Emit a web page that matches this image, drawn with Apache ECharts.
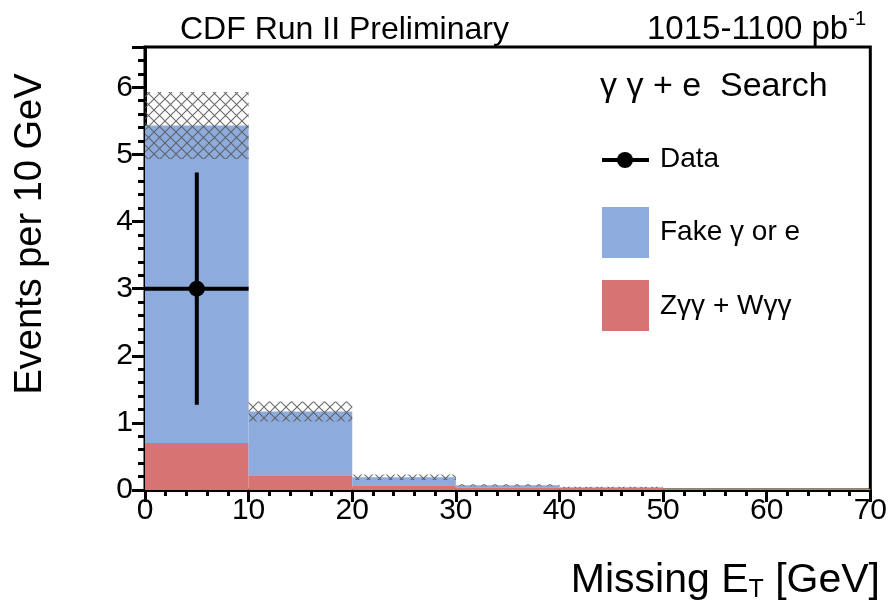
<!DOCTYPE html>
<html>
<head>
<meta charset="utf-8">
<script src="https://cdn.jsdelivr.net/npm/echarts@6/dist/echarts.min.js"></script>
<style>
  html, body { margin: 0; padding: 0; background: #fff; }
  #chart { width: 890px; height: 612px; }
</style>
</head>
<body>
<div id="chart"></div>
<script>
// Missing E_T spectrum, gamma gamma + e search
const binEdges = [0, 10, 20, 30, 40, 50, 60, 70];
const zggWgg = [0.70, 0.22, 0.07, 0.04, 0.03, 0.02, 0.02];   // Z gamma gamma + W gamma gamma
const fakeGE = [4.73, 0.95, 0.12, 0.03, 0.01, 0.00, 0.00];   // fake photon or electron
const bgError = [0.50, 0.15, 0.04, 0.015, 0.01, 0.0, 0.0];   // total background uncertainty
const dataX = [5];
const dataY = [3];
const dataErr = [1.73];
const dataXLo = [0];
const dataXHi = [10];
const xTicks = [0, 10, 20, 30, 40, 50, 60, 70];
const yTicks = [0, 1, 2, 3, 4, 5, 6];

const BLUE = '#8eabdd';
const RED = '#d87373';
const FONT = 'Liberation Sans, Arial, sans-serif';

// cross-hatch fill for the uncertainty band
function hatchCanvas() {
  const c = document.createElement('canvas');
  const s = 11;
  c.width = s; c.height = s;
  const g = c.getContext('2d');
  g.strokeStyle = 'rgba(90,90,90,0.9)';
  g.lineWidth = 1.1;
  g.beginPath();
  g.moveTo(0, 0); g.lineTo(s, s);
  g.moveTo(s, 0); g.lineTo(0, s);
  g.stroke();
  return c;
}
const hatch = { image: hatchCanvas(), repeat: 'repeat' };

const redRows = [], blueRows = [], errRows = [];
for (let i = 0; i < zggWgg.length; i++) {
  const lo = binEdges[i], hi = binEdges[i + 1];
  const tot = zggWgg[i] + fakeGE[i];
  redRows.push([lo, hi, 0, zggWgg[i]]);
  blueRows.push([lo, hi, zggWgg[i], tot]);
  if (bgError[i] > 0) errRows.push([lo, hi, tot - bgError[i], tot + bgError[i]]);
}
const dataRows = dataX.map((x, i) => [x, dataY[i], dataErr[i], dataXLo[i], dataXHi[i]]);

function boxRenderer(fill) {
  return function (params, api) {
    const p0 = api.coord([api.value(0), api.value(3)]);
    const p1 = api.coord([api.value(1), api.value(2)]);
    return {
      type: 'rect',
      shape: { x: p0[0], y: p0[1], width: p1[0] - p0[0], height: p1[1] - p0[1] },
      style: { fill: fill }
    };
  };
}

function errRenderer(params, api) {
  const x = api.value(0), y = api.value(1), e = api.value(2);
  const c = api.coord([x, y]);
  const top = api.coord([x, y + e]);
  const bot = api.coord([x, y - e]);
  const l = api.coord([api.value(3), y]);
  const r = api.coord([api.value(4), y]);
  const st = { stroke: '#000', lineWidth: 4 };
  return {
    type: 'group',
    children: [
      { type: 'line', shape: { x1: top[0], y1: top[1], x2: bot[0], y2: bot[1] }, style: st },
      { type: 'line', shape: { x1: l[0], y1: l[1], x2: r[0], y2: r[1] }, style: st },
      { type: 'circle', shape: { cx: c[0], cy: c[1], r: 8 }, style: { fill: '#000' } }
    ]
  };
}

const chart = echarts.init(document.getElementById('chart'), null, { renderer: 'canvas' });

const legendX = 602, txtX = 660;
chart.setOption({
  animation: false,
  backgroundColor: '#fff',
  textStyle: { fontFamily: FONT },
  grid: {
    left: 145, right: 18, top: 47, bottom: 122,
    show: true, borderColor: '#000', borderWidth: 3, backgroundColor: 'transparent'
  },
  xAxis: {
    type: 'value', min: 0, max: 70, interval: 10,
    axisLine: { show: true, lineStyle: { color: '#000', width: 3 } },
    axisTick: { show: true, length: 12, lineStyle: { color: '#000', width: 3 } },
    minorTick: { show: true, splitNumber: 5, length: 6, lineStyle: { color: '#000', width: 3 } },
    splitLine: { show: false },
    axisLabel: { color: '#000', fontSize: 30, fontFamily: FONT, margin: 6 }
  },
  yAxis: {
    type: 'value', min: 0, max: 6.6, interval: 1,
    axisLine: { show: true, lineStyle: { color: '#000', width: 3 } },
    axisTick: { show: true, length: 13, lineStyle: { color: '#000', width: 3 } },
    minorTick: { show: true, splitNumber: 5, length: 7, lineStyle: { color: '#000', width: 3 } },
    splitLine: { show: false },
    axisLabel: {
      color: '#000', fontSize: 30, fontFamily: FONT, margin: 12,
      formatter: v => (yTicks.indexOf(v) >= 0 ? String(v) : '')
    }
  },
  series: [
    { name: 'Zγγ + Wγγ', type: 'custom', renderItem: boxRenderer(RED), data: redRows, z: 2 },
    { name: 'Fake γ or e', type: 'custom', renderItem: boxRenderer(BLUE), data: blueRows, z: 2 },
    { name: 'Uncertainty', type: 'custom', renderItem: boxRenderer(hatch), data: errRows, z: 3 },
    { name: 'Data', type: 'custom', renderItem: errRenderer, data: dataRows, z: 4 }
  ],
  graphic: [
    { type: 'text', x: 180, y: 30, style: { text: 'CDF Run II Preliminary', font: '32px ' + FONT, fill: '#000', verticalAlign: 'middle' } },
    { type: 'text', x: 866, y: 30, style: {
        text: '{a|1015-1100 pb}{s|-1}',
        align: 'right', verticalAlign: 'middle',
        rich: {
          a: { fontFamily: FONT, fontSize: 33, fill: '#000' },
          s: { fontFamily: FONT, fontSize: 20, fill: '#000', verticalAlign: 'top', padding: [0, 0, 21, 0] }
        } } },
    { type: 'text', x: 31, y: 234, rotation: Math.PI / 2, style: {
        text: 'Events per 10 GeV', font: '38px ' + FONT, fill: '#000', align: 'center', verticalAlign: 'middle' } },
    { type: 'text', x: 880, y: 581, style: {
        text: '{a|Missing E}{s|T}{a| [GeV]}',
        align: 'right', verticalAlign: 'middle',
        rich: {
          a: { fontFamily: FONT, fontSize: 41, fill: '#000' },
          s: { fontFamily: FONT, fontSize: 25, fill: '#000', padding: [18, 0, 0, 0] }
        } } },
    // legend
    { type: 'text', x: 600, y: 87, style: { text: 'γ γ + e  Search', font: '34px ' + FONT, fill: '#000', verticalAlign: 'middle' } },
    { type: 'line', shape: { x1: legendX, y1: 160, x2: legendX + 47, y2: 160 }, style: { stroke: '#000', lineWidth: 4 } },
    { type: 'circle', shape: { cx: legendX + 23, cy: 160, r: 8 }, style: { fill: '#000' } },
    { type: 'text', x: txtX, y: 159, style: { text: 'Data', font: '28px ' + FONT, fill: '#000', verticalAlign: 'middle' } },
    { type: 'rect', shape: { x: legendX, y: 207, width: 47, height: 51 }, style: { fill: BLUE } },
    { type: 'text', x: txtX, y: 232, style: { text: 'Fake γ or e', font: '28px ' + FONT, fill: '#000', verticalAlign: 'middle' } },
    { type: 'rect', shape: { x: legendX, y: 280, width: 47, height: 51 }, style: { fill: RED } },
    { type: 'text', x: txtX, y: 306, style: { text: 'Zγγ + Wγγ', font: '28px ' + FONT, fill: '#000', verticalAlign: 'middle' } }
  ]
});
</script>
</body>
</html>
